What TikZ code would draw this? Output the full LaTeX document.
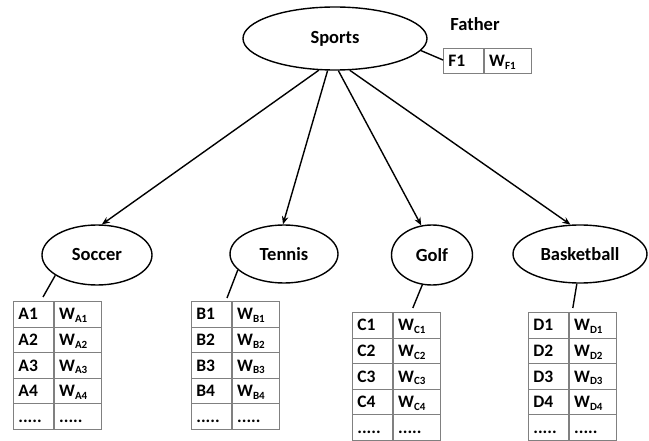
\documentclass[tikz,border=0pt]{standalone}
\usepackage{fontspec}
\setmainfont{Carlito}
\usetikzlibrary{shapes.geometric,arrows.meta}

\definecolor{gridgray}{RGB}{128,128,128}

\newcommand\wsub[1]{W\raisebox{-2.5pt}{\fontsize{11}{12}\selectfont #1}}

\tikzset{
  topic/.style={ellipse, draw, line width=1.4pt, inner sep=0pt,
    font=\fontsize{18.5}{22}\selectfont\bfseries},
  link/.style={line width=1.4pt},
  arrowlink/.style={link, -{Stealth[length=8pt,width=6.5pt]}},
  cell/.style={draw=gridgray, line width=0.8pt, anchor=north west,
    minimum height=25.6pt, inner xsep=5pt, inner ysep=0pt,
    text height=13pt, text depth=1.5pt, align=left,
    font=\fontsize{17.5}{20}\selectfont\bfseries},
  keycell/.style={cell, text width=30pt},
  wcell/.style={cell, text width=37pt},
}

% weight table: #1 letter, #2 left x, #3 top y
\newcommand\wtable[3]{%
  \foreach \r [count=\i from 0] in {1,2,3,4} {
    \node[keycell] (#1\r) at (#2, {#3+\i*25.6}) {#1\r};
    \node[wcell] (#1\r w) at (#1\r.north east) {\wsub{#1\r}};
  }
  \node[keycell] (#1dots) at (#2, {#3+4*25.6}) {.....};
  \node[wcell] (#1dotsw) at (#1dots.north east) {.....};
}

\begin{document}
\begin{tikzpicture}[x=1pt, y=-1pt]
  \useasboundingbox (0,0) rectangle (649,441);

  % root and its own weight entry
  \node[topic, minimum width=184pt, minimum height=63pt] (sports) at (335,38.5) {Sports};
  \node[font=\fontsize{18.5}{22}\selectfont\bfseries] (father) at (475,24) {Father};
  \node[keycell, minimum height=25pt] (F1) at (443,48) {F1};
  \node[wcell, minimum height=25pt] (F1w) at (F1.north east) {\wsub{F1}};
  \draw[link] (sports.352) -- ([yshift=-12pt]F1.north west);

  % child categories
  \node[topic, minimum width=110pt, minimum height=60pt] (soccer) at (97,255) {Soccer};
  \node[topic, minimum width=108pt, minimum height=58pt] (tennis) at (284,254) {Tennis};
  \node[topic, minimum width=81pt,  minimum height=60pt] (golf)   at (432,255) {Golf};
  \node[topic, minimum width=134pt, minimum height=58pt] (basket) at (580,254) {Basketball};

  \draw[arrowlink] (sports.243)   -- (soccer.81);
  \draw[arrowlink] (sports.257.5) -- (tennis.92);
  \draw[arrowlink] (sports.276)   -- (golf.110);
  \draw[arrowlink] (sports.295)   -- (basket.108);

  % weight tables under each category
  \wtable{A}{13}{301}
  \wtable{B}{191}{301}
  \wtable{C}{352}{312}
  \wtable{D}{528}{312}

  \draw[link] (soccer.206) -- ([xshift=30pt,yshift=4pt]A1.north west);
  \draw[link] (tennis.199) -- ([xshift=36pt,yshift=3pt]B1.north west);
  \draw[link] (golf.252)   -- ([xshift=20pt,yshift=4pt]C1w.north west);
  \draw[link] (basket.264) -- ([xshift=4pt,yshift=4pt]D1w.north west);
\end{tikzpicture}
\end{document}
